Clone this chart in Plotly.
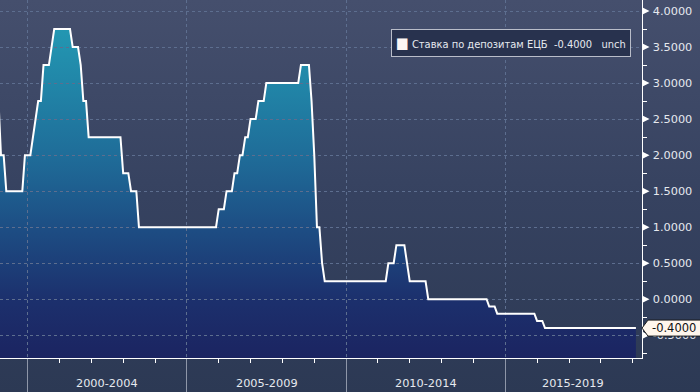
import plotly.graph_objects as go
import pandas as pd

# ECB deposit facility rate, month-end readings at change points
rate_dates = [
    "1999-01-31", "1999-02-28", "1999-03-31", "1999-04-30", "1999-10-31", "1999-11-30",
    "2000-01-31", "2000-02-29", "2000-03-31", "2000-04-30", "2000-05-31", "2000-06-30",
    "2000-08-31", "2000-09-30", "2000-10-31", "2001-04-30", "2001-05-31", "2001-07-31",
    "2001-08-31", "2001-09-30", "2001-10-31", "2001-11-30", "2002-11-30", "2002-12-31",
    "2003-02-28", "2003-03-31", "2003-05-31", "2003-06-30", "2005-11-30", "2005-12-31",
    "2006-02-28", "2006-03-31", "2006-05-31", "2006-06-30", "2006-07-31", "2006-08-31",
    "2006-09-30", "2006-10-31", "2006-11-30", "2006-12-31", "2007-02-28", "2007-03-31",
    "2007-05-31", "2007-06-30", "2008-06-30", "2008-07-31", "2008-10-31", "2008-11-30",
    "2008-12-31", "2009-01-31", "2009-02-28", "2009-03-31", "2009-04-30", "2011-03-31",
    "2011-04-30", "2011-06-30", "2011-07-31", "2011-10-31", "2011-11-30", "2011-12-31",
    "2012-06-30", "2012-07-31", "2014-05-31", "2014-06-30", "2014-08-31", "2014-09-30",
    "2015-11-30", "2015-12-31", "2016-02-29", "2016-03-31", "2019-02-07",
]
rate_values = [
    2.75, 2.00, 2.00, 1.50, 1.50, 2.00,
    2.00, 2.25, 2.50, 2.75, 2.75, 3.25,
    3.25, 3.50, 3.75, 3.75, 3.50, 3.50,
    3.25, 2.75, 2.75, 2.25, 2.25, 1.75,
    1.75, 1.50, 1.50, 1.00, 1.00, 1.25,
    1.25, 1.50, 1.50, 1.75, 1.75, 2.00,
    2.00, 2.25, 2.25, 2.50, 2.50, 2.75,
    2.75, 3.00, 3.00, 3.25, 3.25, 2.75,
    2.00, 1.00, 1.00, 0.50, 0.25, 0.25,
    0.50, 0.50, 0.75, 0.75, 0.50, 0.25,
    0.25, 0.00, 0.00, -0.10, -0.10, -0.20,
    -0.20, -0.30, -0.30, -0.40, -0.40,
]

period_starts = [2000, 2005, 2010, 2015]
period_labels = ["2000-2004", "2005-2009", "2010-2014", "2015-2019"]
y_tick_values = [-0.5, 0.0, 0.5, 1.0, 1.5, 2.0, 2.5, 3.0, 3.5, 4.0]
series_name = "Ставка по депозитам ЕЦБ"
change_text = "unch"

X_RANGE = ["1999-02-17", "2019-04-12"]
Y_RANGE = [-0.815, 4.153]
W, H = 700, 392
PLOT_R = 641.5 / W
PLOT_B = 34 / H

FONT = "DejaVu Sans"
TXT = "#e6e9ef"
GRID = "#5d6e8f"

fig = go.Figure()

# background gradient (whole page)
fig.add_trace(go.Scatter(
    x=[0, 1, 1, 0], y=[0, 0, 1, 1], fill="toself", mode="lines", line=dict(width=0),
    fillgradient=dict(type="vertical", colorscale=[[0, "#2c3954"], [0.5, "#364260"], [1, "#454f6d"]],
                      start=0, stop=1),
    xaxis="x", yaxis="y", hoverinfo="skip", showlegend=False))

# area fill
fill_x = list(rate_dates) + [rate_dates[-1], rate_dates[0]]
fill_y = list(rate_values) + [Y_RANGE[0] - 1, Y_RANGE[0] - 1]
fig.add_trace(go.Scatter(
    x=fill_x, y=fill_y, fill="toself", mode="lines", line=dict(width=0),
    fillgradient=dict(type="vertical", start=Y_RANGE[0], stop=Y_RANGE[1],
                      colorscale=[[0.0, "#1b2461"], [0.164, "#1c306d"], [0.365, "#1d4e84"],
                                  [0.567, "#1f6d99"], [0.768, "#2186a8"], [0.919, "#2397b2"],
                                  [1.0, "#249fb8"]]),
    xaxis="x2", yaxis="y2", hoverinfo="skip", showlegend=False))

# white line
fig.add_trace(go.Scatter(
    x=rate_dates, y=rate_values, mode="lines", line=dict(color="white", width=2),
    xaxis="x3", yaxis="y3", hoverinfo="skip", showlegend=False))

dom_x = [0, PLOT_R]
dom_y = [PLOT_B, 1]

fig.update_layout(
    width=W, height=H,
    margin=dict(l=0, r=0, t=0, b=0),
    paper_bgcolor="#2f3c58", plot_bgcolor="rgba(0,0,0,0)",
    showlegend=False,
    xaxis=dict(domain=[0, 1], range=[0, 1], visible=False),
    yaxis=dict(domain=[0, 1], range=[0, 1], visible=False),
    xaxis2=dict(domain=dom_x, range=X_RANGE, type="date", visible=False, anchor="y2"),
    yaxis2=dict(domain=dom_y, range=Y_RANGE, visible=False, anchor="x2"),
    xaxis3=dict(
        domain=dom_x, range=X_RANGE, type="date", anchor="y3",
        tickmode="linear", tick0="2000-01-01", dtick="M60",
        ticks="outside", ticklen=34, tickcolor="#8e96a8", tickwidth=1,
        showticklabels=False,
        showgrid=True, gridcolor=GRID, griddash="3px,3px", gridwidth=1,
        showline=True, linecolor="white", linewidth=1, zeroline=False,
        minor=dict(tick0="2000-01-01", dtick="M12", ticks="outside", ticklen=4,
                   tickcolor="white", tickwidth=1, showgrid=False),
    ),
    yaxis3=dict(
        domain=dom_y, range=Y_RANGE, anchor="x3", side="right",
        tickmode="array", tickvals=y_tick_values,
        ticktext=[f"{v:.4f}" for v in y_tick_values],
        ticks="outside", ticklen=8, tickcolor="rgba(0,0,0,0)",
        tickfont=dict(family=FONT, size=11.3, color=TXT),
        showgrid=True, gridcolor=GRID, griddash="3px,3px", gridwidth=1,
        showline=True, linecolor="white", linewidth=1, zeroline=False,
        automargin=False,
        minor=dict(tick0=0, dtick=0.25, ticks="outside", ticklen=4,
                   tickcolor="white", tickwidth=1, showgrid=False),
    ),
)

shapes = []
for v in y_tick_values:
    shapes.append(dict(type="path", xref="paper", xsizemode="pixel", xanchor=PLOT_R,
                       yref="y3", ysizemode="pixel", yanchor=v,
                       path="M 1,-3.5 L 8,0 L 1,3.5 Z", fillcolor="white",
                       line=dict(width=0), layer="above"))

last_val = rate_values[-1]
shapes.append(dict(type="path", xref="paper", xsizemode="pixel", xanchor=PLOT_R,
                   yref="y3", ysizemode="pixel", yanchor=last_val,
                   path="M 0.5,0 L 6.5,-8 L 80,-8 L 80,8 L 6.5,8 Z",
                   fillcolor="#fff6ec", line=dict(color="#1a1a1a", width=1), layer="above"))
fig.update_layout(shapes=shapes)

annotations = []
xmin = pd.Timestamp(X_RANGE[0])
xmax = pd.Timestamp(X_RANGE[1])
for start, lab in zip(period_starts, period_labels):
    s = max(pd.Timestamp(f"{start}-01-01"), xmin)
    e = min(pd.Timestamp(f"{start + 5}-01-01"), xmax)
    mid = s + (e - s) / 2
    annotations.append(dict(x=mid, xref="x3", y=1 - 383 / H, yref="paper",
                            text=lab, showarrow=False, xanchor="center", yanchor="middle",
                            font=dict(family=FONT, size=11.3, color=TXT)))

annotations.append(dict(x=PLOT_R, xref="paper", xshift=8, y=last_val, yref="y3",
                        text=f"{last_val:.4f}", showarrow=False, xanchor="left", yanchor="middle",
                        font=dict(family=FONT, size=11.5, color="#111111")))

nb = "\u00a0"
legend_text = (f"<span style='font-size:15px;color:#fdf6f3'>■</span>{nb}"
               f"{series_name}{nb}{nb}{last_val:.4f}{nb}{nb}{nb}{change_text}")
annotations.append(dict(x=631 / W, xref="paper", y=1 - 42.5 / H, yref="paper",
                        text=legend_text, showarrow=False, xanchor="right", yanchor="middle",
                        bgcolor="#28324e", bordercolor="#b9bdc9", borderwidth=1, borderpad=4,
                        font=dict(family="DejaVu Sans Condensed", size=11, color=TXT)))

fig.update_layout(annotations=annotations)

fig.write_html("out.html")
